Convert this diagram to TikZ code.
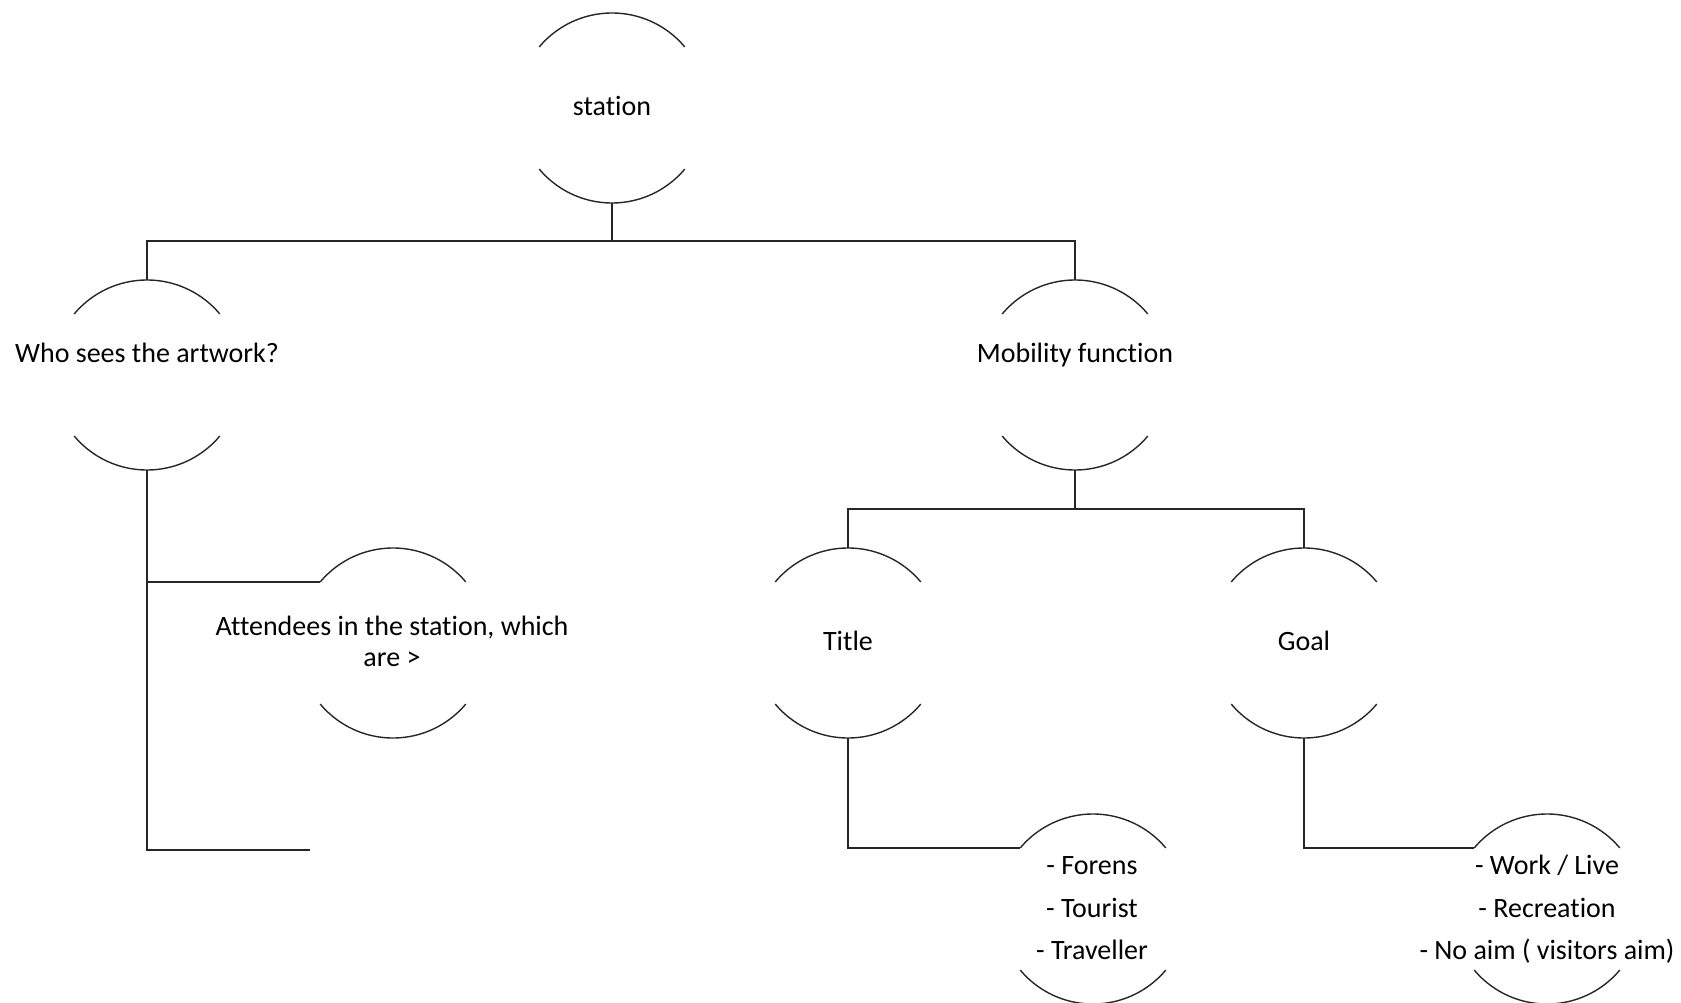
\documentclass[tikz,border=0pt]{standalone}
\usepackage{fontspec}
\setmainfont[Ligatures=NoCommon]{Carlito}
\begin{document}
\begin{tikzpicture}[x=1pt,y=-1pt,
  bubble/.style={circle, minimum size=190pt, inner sep=0pt, outer sep=0pt},
  wire/.style={line width=1.4pt, draw=black!85},
  lbl/.style={font=\fontsize{28}{34}\selectfont, anchor=base, inner sep=0pt}]
\useasboundingbox (0,0) rectangle (1681,1003);

% invisible circular frames, only their top and bottom arcs are drawn
\node[bubble] (station) at (612,108) {};
\node[bubble] (who)     at (147,375) {};
\node[bubble] (att)     at (393,643) {};
\node[bubble] (mob)     at (1075,375) {};
\node[bubble] (title)   at (848,643) {};
\node[bubble] (goal)    at (1304,643) {};
\node[bubble] (kinds)   at (1093,909) {};
\node[bubble] (aims)    at (1547,909) {};

\foreach \n in {station,who,att,mob,title,goal,kinds,aims}{
  \draw[wire] (\n.40) arc[start angle=40, end angle=140, radius=95pt];
  \draw[wire] (\n.220) arc[start angle=220, end angle=320, radius=95pt];
}

% labels
\node[lbl] (tstation) at (612,116) {station};
\node[lbl] (twho)     at (147,362) {Who sees the artwork?};
\node[lbl] (tatt1)    at (392,635) {Attendees in the station, which};
\node[lbl] (tatt2)    at (392,666) {are >};
\node[lbl] (tmob)     at (1075,362) {Mobility function};
\node[lbl] (ttitle)   at (848,650) {Title};
\node[lbl] (tgoal)    at (1304,650) {Goal};
\node[lbl] (tk1)      at (1092,874) {- Forens};
\node[lbl] (tk2)      at (1092,917) {- Tourist};
\node[lbl] (tk3)      at (1092,959) {- Traveller};
\node[lbl] (ta1)      at (1547,874) {- Work / Live};
\node[lbl] (ta2)      at (1547,917) {- Recreation};
\node[lbl] (ta3)      at (1547,959) {- No aim ( visitors aim)};

% branch points
\coordinate (jtop) at (612,241);
\coordinate (jmob) at (1075,509);
\coordinate (loose) at (310,850);

% connectors
\draw[wire] (station.south) -- (jtop);
\draw[wire] (who.north) |- (jtop) -| (mob.north);
\draw[wire] (mob.south) -- (jmob);
\draw[wire] (title.north) |- (jmob) -| (goal.north);
\draw[wire] (who.south) |- (att.140);
\draw[wire] (who.south) |- (loose);
\draw[wire] (title.south) |- (kinds.140);
\draw[wire] (goal.south) |- (aims.140);
\end{tikzpicture}
\end{document}
